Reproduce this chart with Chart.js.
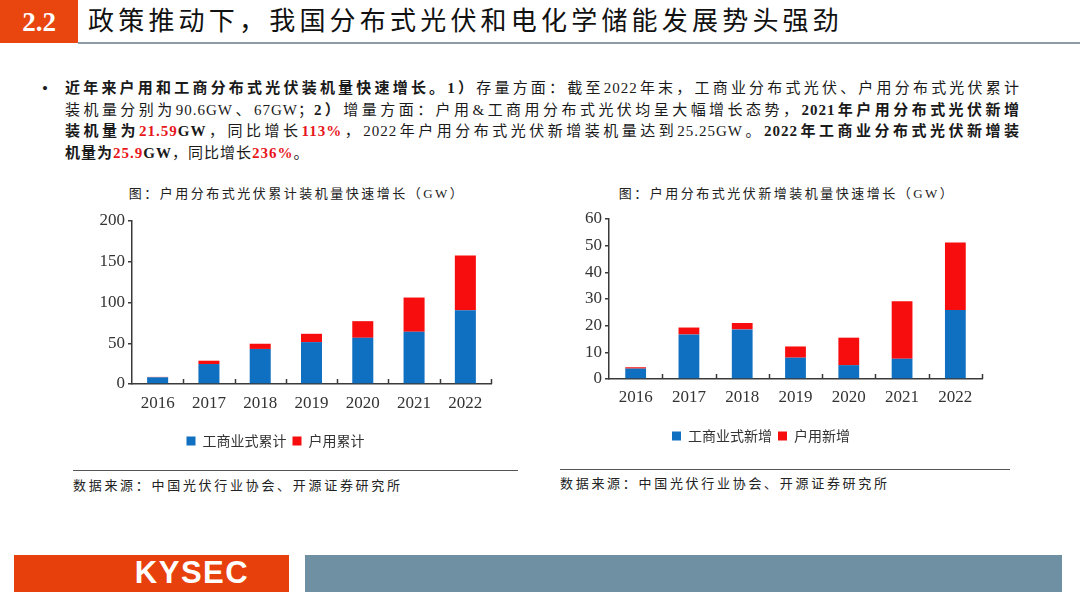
<!DOCTYPE html>
<html>
<head>
<meta charset="utf-8">
<script src="https://cdn.jsdelivr.net/npm/chart.js@4.4.0/dist/chart.umd.min.js"></script>
<style>
  html, body { margin: 0; padding: 0; background: #fff; }
  body { width: 1080px; height: 607px; position: relative; overflow: hidden;
         font-family: "Liberation Serif", "Noto Sans CJK SC", serif; color: #1a1a1a; }
  .abs { position: absolute; }
  #secbox { left: 0; top: 0; width: 78px; height: 43px; background: #e8460e; color: #fff;
            font: bold 27px "Liberation Serif", serif; text-align: center; line-height: 45px; }
  #title { left: 88px; top: 3px; font-size: 26px; letter-spacing: 4.2px; line-height: 38px; color: #111; }
  #titleline { left: 78px; top: 42px; width: 1002px; height: 2px; background: #8c9ba6; }
  .line { left: 65px; width: 955px; font-size: 15px; line-height: 21px; letter-spacing: 1px; white-space: nowrap; }
  .just { text-align: justify; text-align-last: justify; white-space: normal; }
  .red { color: #e8161b; font-weight: bold; }
  b { font-weight: bold; }
  .ctitle { font-size: 13px; letter-spacing: 2.5px; text-align: center; color: #222; }
  .src { font-size: 13px; letter-spacing: 2.7px; color: #222; }
  .rule { height: 1px; background: #555; }
  canvas { position: absolute; }
</style>
</head>
<body>
<div class="abs" id="secbox">2.2</div>
<div class="abs" id="title">政策推动下，我国分布式光伏和电化学储能发展势头强劲</div>
<div class="abs" id="titleline"></div>

<div class="abs" style="left:42px; top:78px; font-size:17px; line-height:21px;">•</div>
<div class="abs line just" style="top:78px;"><b>近年来户用和工商分布式光伏装机量快速增长。1）</b>存量方面：截至2022年末，工商业分布式光伏、户用分布式光伏累计</div>
<div class="abs line just" style="top:100px;">装机量分别为90.6GW、67GW；<b>2）</b>增量方面：户用&amp;工商用分布式光伏均呈大幅增长态势，<b>2021年户用分布式光伏新增</b></div>
<div class="abs line just" style="top:121px;"><b>装机量为</b><span class="red">21.59</span><b>GW</b>，同比增长<span class="red">113%</span>，2022年户用分布式光伏新增装机量达到25.25GW。<b>2022年工商业分布式光伏新增装</b></div>
<div class="abs line" style="top:143px;"><b>机量为</b><span class="red">25.9</span><b>GW</b>，同比增长<span class="red">236%</span>。</div>

<div class="abs ctitle" style="left:112px; width:370px; top:183px;">图：户用分布式光伏累计装机量快速增长（GW）</div>
<div class="abs ctitle" style="left:602px; width:370px; top:183px;">图：户用分布式光伏新增装机量快速增长（GW）</div>

<canvas id="chart-cum" style="left:60px; top:205px;" width="460" height="253"></canvas>
<canvas id="chart-new" style="left:540px; top:205px;" width="480" height="248"></canvas>

<div class="abs rule" style="left:73px; top:470px; width:445px;"></div>
<div class="abs src" style="left:73px; top:475px;">数据来源：中国光伏行业协会、开源证券研究所</div>
<div class="abs rule" style="left:560px; top:469px; width:450px;"></div>
<div class="abs src" style="left:560px; top:473px;">数据来源：中国光伏行业协会、开源证券研究所</div>

<div class="abs" style="left:14px; top:555px; width:275px; height:37px; background:#e8400c;"></div>
<div class="abs" style="left:122px; top:555px; width:140px; height:37px; line-height:39px; color:#fff; text-align:center;
     font: bold 31px 'Liberation Sans Narrow', 'Liberation Sans', sans-serif; letter-spacing:1.5px;">KYSEC</div>
<div class="abs" style="left:305px; top:555px; width:757px; height:37px; background:#6f8fa3;"></div>

<script>
// Chart data
const years = ['2016', '2017', '2018', '2019', '2020', '2021', '2022'];

const cumCommercial = [8.2, 24.5, 43.0, 51.4, 56.7, 64.1, 90.6];
const cumHousehold  = [0.5, 4.1, 6.4, 10.2, 20.4, 42.0, 67.0];

const newCommercial = [3.9, 16.7, 18.6, 8.0, 5.2, 7.6, 25.9];
const newHousehold  = [0.5, 2.6, 2.4, 4.2, 10.3, 21.59, 25.25];

const cumTicks = [0, 50, 100, 150, 200];
const newTicks = [0, 10, 20, 30, 40, 50, 60];

const BLUE = '#0f6fc0';
const RED = '#f70d0d';
const AXIS = '#3a3a3a';
const TICK_FONT = { family: 'Liberation Serif', size: 17 };
const LEGEND_FONT = { family: 'Noto Sans CJK SC', size: 14 };

// small ticks between categories, pointing up into the plot
const innerTicks = {
    id: 'innerTicks',
    afterDatasetsDraw(chart) {
        const { ctx, scales: { x } } = chart;
        ctx.save();
        ctx.strokeStyle = AXIS;
        ctx.lineWidth = 1.5;
        for (let i = 1; i <= x.ticks.length; i++) {
            const px = Math.round(x.getPixelForValue(i - 0.5)) + 0.5;
            ctx.beginPath();
            ctx.moveTo(px, x.top);
            ctx.lineTo(px, x.top - 5);
            ctx.stroke();
        }
        ctx.restore();
    }
};

function renderStacked(id, blueName, redName, blueData, redData, ticks, box) {
    const ctx = document.getElementById(id).getContext('2d');
    const max = ticks[ticks.length - 1];
    const step = ticks[1] - ticks[0];

    return new Chart(ctx, {
        type: 'bar',
        data: {
            labels: years,
            datasets: [
                { label: blueName, data: blueData, backgroundColor: BLUE, borderWidth: 0 },
                { label: redName, data: redData, backgroundColor: RED, borderWidth: 0 }
            ]
        },
        options: {
            responsive: false,
            animation: false,
            events: [],
            datasets: { bar: { categoryPercentage: 1, barPercentage: box.bar } },
            layout: { padding: { left: 0, right: box.right, top: box.top, bottom: 0 } },
            plugins: {
                legend: {
                    position: 'bottom',
                    labels: { color: '#333', font: LEGEND_FONT, boxWidth: 9, boxHeight: 9, padding: 6 }
                },
                tooltip: { enabled: false }
            },
            scales: {
                x: {
                    stacked: true,
                    grid: { display: false, drawTicks: false },
                    border: { display: true, color: AXIS, width: 1.5 },
                    ticks: { color: '#333', font: TICK_FONT, padding: box.xpad, maxRotation: 0 },
                    afterFit: s => { s.height = box.xh; }
                },
                y: {
                    stacked: true,
                    min: 0,
                    max: max,
                    grid: { drawOnChartArea: false, drawTicks: true, tickLength: 4, color: AXIS, lineWidth: 1.5 },
                    border: { display: true, color: AXIS, width: 1.5 },
                    ticks: { stepSize: step, color: '#333', font: TICK_FONT, padding: 3 },
                    afterFit: s => { s.width = box.yw; }
                }
            }
        },
        plugins: [innerTicks]
    });
}

renderStacked('chart-cum', '工商业式累计', '户用累计', cumCommercial, cumHousehold, cumTicks,
    { yw: 72, right: 29, top: 16, xh: 44, xpad: 9, bar: 0.41 });
renderStacked('chart-new', '工商业式新增', '户用新增', newCommercial, newHousehold, newTicks,
    { yw: 69, right: 38, top: 14, xh: 44, xpad: 8, bar: 0.39 });
</script>
</body>
</html>
